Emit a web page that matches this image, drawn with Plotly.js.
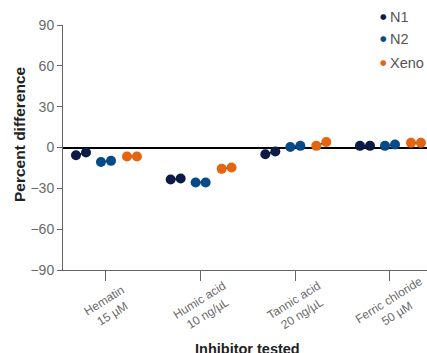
<!DOCTYPE html>
<html>
<head>
<meta charset="utf-8">
<script src="https://cdn.plot.ly/plotly-3.0.1.min.js"></script>
<style>html,body{margin:0;padding:0;background:#fff;overflow:hidden}#chart{width:427px;height:353px}</style>
</head>
<body>
<div id="chart"></div>
<script>
// Data
const categories = ["Hematin<br>15 µM", "Humic acid<br>10 ng/µL", "Tannic acid<br>20 ng/µL", "Ferric chloride<br>50 µM"];
const seriesNames = ["N1", "N2", "Xeno"];
// two replicate values per inhibitor for each series
const n1Values   = [[-5.7, -3.7], [-23.5, -22.8], [-4.9, -3.0], [1.2, 1.2]];
const n2Values   = [[-10.6, -9.8], [-25.7, -25.7], [0.4, 1.2], [1.2, 2.2]];
const xenoValues = [[-6.6, -6.6], [-15.7, -14.7], [1.2, 4.1], [3.4, 3.4]];
const yTicks = [-90, -60, -30, 0, 30, 60, 90];
const yTickLabels = ["\u221290", "\u221260", "\u221230", "0", "30", "60", "90"];
const xTitle = "Inhibitor tested";
const yTitle = "Percent difference";

// Style / position
const colors = ["#0c1b45", "#074a88", "#e4650f"];
const seriesOffsets = [[-0.317, -0.211], [-0.053, 0.053], [0.222, 0.327]];
const allSeries = [n1Values, n2Values, xenoValues];

const traces = [];
allSeries.forEach((vals, s) => {
  const xs = [], ys = [];
  vals.forEach((pair, c) => {
    pair.forEach((v, k) => { xs.push(c + seriesOffsets[s][k]); ys.push(v); });
    xs.push(null); ys.push(null);
  });
  traces.push({x: xs, y: ys, type: 'scatter', mode: 'lines', line: {color: '#111', width: 1.5},
    showlegend: false, hoverinfo: 'skip', connectgaps: false, cliponaxis: false});
  traces.push({x: xs, y: ys, type: 'scatter', mode: 'markers', name: seriesNames[s],
    marker: {color: colors[s], size: 10}, showlegend: false, connectgaps: false, cliponaxis: false});
});

const grayText = '#6a6a6a';
const annotations = [];
// category tick labels, rotated around their centre
categories.forEach((c, i) => {
  annotations.push({text: c, xref: 'x', yref: 'paper', x: i, y: 0, xshift: 3, yshift: -37,
    xanchor: 'center', yanchor: 'middle', textangle: -32, showarrow: false,
    font: {size: 12, color: grayText}});
});
// legend: bullet + name
const legendY = [1.033, 0.943, 0.845];
seriesNames.forEach((nm, s) => {
  annotations.push({text: '\u25CF', xref: 'paper', yref: 'paper', x: 0.8815, y: legendY[s],
    xanchor: 'center', yanchor: 'middle', showarrow: false,
    font: {size: 7.5, color: colors[s], family: 'DejaVu Sans'}});
  annotations.push({text: nm, xref: 'paper', yref: 'paper', x: 0.8915, y: legendY[s],
    xanchor: 'left', yanchor: 'middle', showarrow: false, font: {size: 14.5, color: '#555'}});
});
// axis titles
annotations.push({
  text: '<b>' + xTitle + '</b>', xref: 'paper', yref: 'paper', x: 0.508, y: 0,
  yshift: -79, xanchor: 'center', yanchor: 'middle', showarrow: false,
  font: {size: 14.5, color: '#222'}
});
annotations.push({
  text: '<b>' + yTitle + '</b>', xref: 'paper', yref: 'paper', x: 0, y: 0.555,
  xshift: -44, xanchor: 'center', yanchor: 'middle', textangle: -90, showarrow: false,
  font: {size: 15.5, color: '#222'}
});

const layout = {
  width: 427, height: 353,
  margin: {l: 63, r: 0, t: 25, b: 83},
  paper_bgcolor: '#fff', plot_bgcolor: '#fff',
  font: {family: 'Liberation Sans, Arial, sans-serif', color: grayText},
  showlegend: false,
  xaxis: {
    range: [-0.454, 3.391], tickmode: 'array', tickvals: [0, 1, 2, 3], ticktext: ['', '', '', ''],
    ticks: 'outside', ticklen: 10,
    tickcolor: '#666', showline: true, linecolor: '#666', linewidth: 1, showgrid: false, zeroline: false
  },
  yaxis: {
    range: [-90, 90], tickmode: 'array', tickvals: yTicks, ticktext: yTickLabels,
    tickfont: {size: 14, color: grayText}, ticks: 'outside', ticklen: 5, tickcolor: '#666',
    showline: true, linecolor: '#666', linewidth: 1, showgrid: false,
    zeroline: true, zerolinecolor: '#000', zerolinewidth: 2
  },
  annotations: annotations
};

Plotly.newPlot('chart', traces, layout, {displayModeBar: false, staticPlot: true});
</script>
</body>
</html>
